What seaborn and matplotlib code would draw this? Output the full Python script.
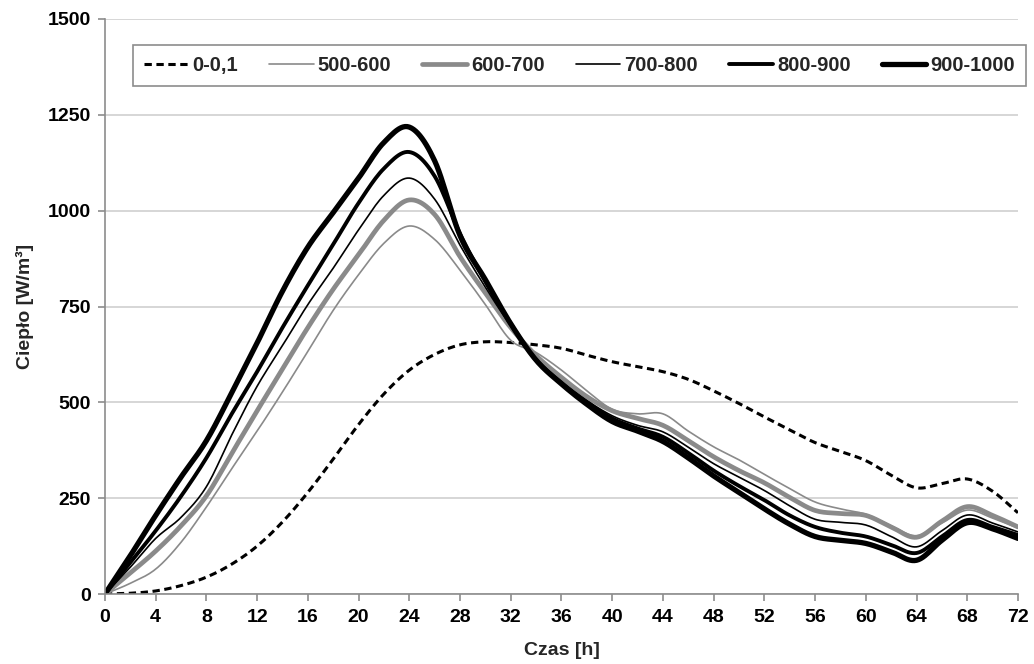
import numpy as np
import pandas as pd
import seaborn as sns
import matplotlib
matplotlib.use("Agg")
import matplotlib.pyplot as plt

# Data (every 2 hours).
hours = list(range(0, 74, 2))

q_0_01 = [0, 2, 8, 22, 44, 78, 125, 188, 265, 352, 442, 522, 584, 625, 650, 658, 656, 650, 641,
          623, 606, 593, 580, 560, 530, 497, 462, 428, 395, 372, 348, 310, 277, 288, 300, 268, 212]
q_500_600 = [0, 28, 65, 135, 227, 327, 425, 527, 633, 740, 833, 915, 960, 925, 845, 755, 662, 630, 584,
             530, 482, 470, 470, 425, 384, 350, 312, 275, 240, 222, 208, 178, 152, 185, 219, 198, 172]
q_600_700 = [0, 55, 112, 178, 256, 367, 478, 587, 695, 795, 885, 975, 1028, 990, 880, 785, 695, 622, 565,
             515, 478, 458, 440, 400, 358, 322, 290, 252, 218, 210, 205, 175, 148, 190, 228, 205, 175]
q_700_800 = [0, 70, 145, 200, 280, 415, 542, 648, 755, 850, 950, 1040, 1085, 1030, 910, 800, 700, 615, 555,
             505, 465, 440, 423, 383, 340, 305, 270, 230, 195, 187, 180, 150, 123, 165, 206, 185, 162]
q_800_900 = [0, 82, 165, 255, 355, 470, 580, 695, 805, 912, 1020, 1110, 1153, 1090, 940, 815, 705, 610, 550,
             500, 458, 432, 410, 368, 322, 282, 245, 205, 175, 160, 150, 128, 107, 150, 193, 175, 154]
q_900_1000 = [0, 100, 205, 305, 400, 525, 655, 790, 905, 995, 1085, 1178, 1218, 1130, 935, 820, 705, 610, 548,
              495, 450, 425, 398, 355, 308, 265, 222, 182, 150, 140, 132, 110, 88, 140, 186, 170, 145]

labels = ["0-0,1", "500-600", "600-700", "700-800", "800-900", "900-1000"]
series = [q_0_01, q_500_600, q_600_700, q_700_800, q_800_900, q_900_1000]


# Excel-style "smoothed line": Catmull-Rom curve through the read points (drawing only).
def smooth_line(x, y, n=12):
    x = np.asarray(x, float)
    y = np.asarray(y, float)
    px = np.concatenate([[2 * x[0] - x[1]], x, [2 * x[-1] - x[-2]]])
    py = np.concatenate([[2 * y[0] - y[1]], y, [2 * y[-1] - y[-2]]])
    t = np.linspace(0, 1, n, endpoint=False)
    xs, ys = [], []
    for i in range(1, len(px) - 2):
        for p, out in ((px, xs), (py, ys)):
            p0, p1, p2, p3 = p[i - 1], p[i], p[i + 1], p[i + 2]
            out.extend(0.5 * (2 * p1 + (-p0 + p2) * t + (2 * p0 - 5 * p1 + 4 * p2 - p3) * t ** 2
                              + (-p0 + 3 * p1 - 3 * p2 + p3) * t ** 3))
    xs.append(x[-1])
    ys.append(y[-1])
    return np.array(xs), np.clip(np.array(ys), 0, None)


frames = []
for lab, vals in zip(labels, series):
    sx, sy = smooth_line(hours, vals)
    frames.append(pd.DataFrame({"Czas": sx, "Cieplo": sy, "zakres": lab}))
df = pd.concat(frames, ignore_index=True)

sns.set_theme(style="whitegrid")
plt.rcParams["font.family"] = ["Liberation Sans", "DejaVu Sans"]
plt.rcParams["font.weight"] = "bold"

# colour, width, dash
styles = {
    "0-0,1": ("black", 2.2, (0, (2.4, 1.5))),
    "500-600": ("#8a8a8a", 1.2, "-"),
    "600-700": ("#8a8a8a", 3.4, "-"),
    "700-800": ("black", 1.2, "-"),
    "800-900": ("black", 2.8, "-"),
    "900-1000": ("black", 3.8, "-"),
}

fig = plt.figure(figsize=(10.34, 6.64), dpi=100)
ax = fig.add_axes([0.1015, 0.1054, 0.883, 0.866])

for lab in labels:
    c, lw, ls = styles[lab]
    sns.lineplot(data=df[df["zakres"] == lab], x="Czas", y="Cieplo", color=c, linewidth=lw,
                 linestyle=ls, label=lab, ax=ax)

fs = 14
ax.set_xlim(0, 72)
ax.set_ylim(0, 1500)
ax.set_xticks(range(0, 73, 4))
ax.set_yticks(range(0, 1501, 250))
ax.grid(axis="x", visible=False)
ax.grid(axis="y", color="#cfcfcf", linewidth=1.2)
for s in ["top", "right"]:
    ax.spines[s].set_visible(False)
for s in ["left", "bottom"]:
    ax.spines[s].set_color("#8c8c8c")
    ax.spines[s].set_linewidth(1.2)
ax.tick_params(axis="both", which="major", direction="out", length=5, width=1.2, color="#8c8c8c",
               labelsize=fs, labelcolor="black")
ax.tick_params(axis="x", bottom=True, pad=6)
ax.tick_params(axis="y", left=True, pad=5)
for t in ax.get_xticklabels() + ax.get_yticklabels():
    t.set_fontweight("bold")

ax.set_xlabel("Czas [h]", fontsize=fs, fontweight="bold", labelpad=11)
ax.set_ylabel("Ciepło [W/m³]", fontsize=fs, fontweight="bold", labelpad=10)

leg = ax.legend(loc="upper left", bbox_to_anchor=(133 / 1034, 1 - 45 / 664), bbox_transform=fig.transFigure,
                borderaxespad=0, ncol=6, frameon=True, fancybox=False, handlelength=2.2, handletextpad=0.2,
                columnspacing=1.55, borderpad=0.55, prop={"weight": "bold", "size": 14.5})
leg.get_frame().set_edgecolor("#8c8c8c")
leg.get_frame().set_linewidth(1.2)
leg.get_frame().set_alpha(1)

fig.savefig("out.png", dpi=100)
